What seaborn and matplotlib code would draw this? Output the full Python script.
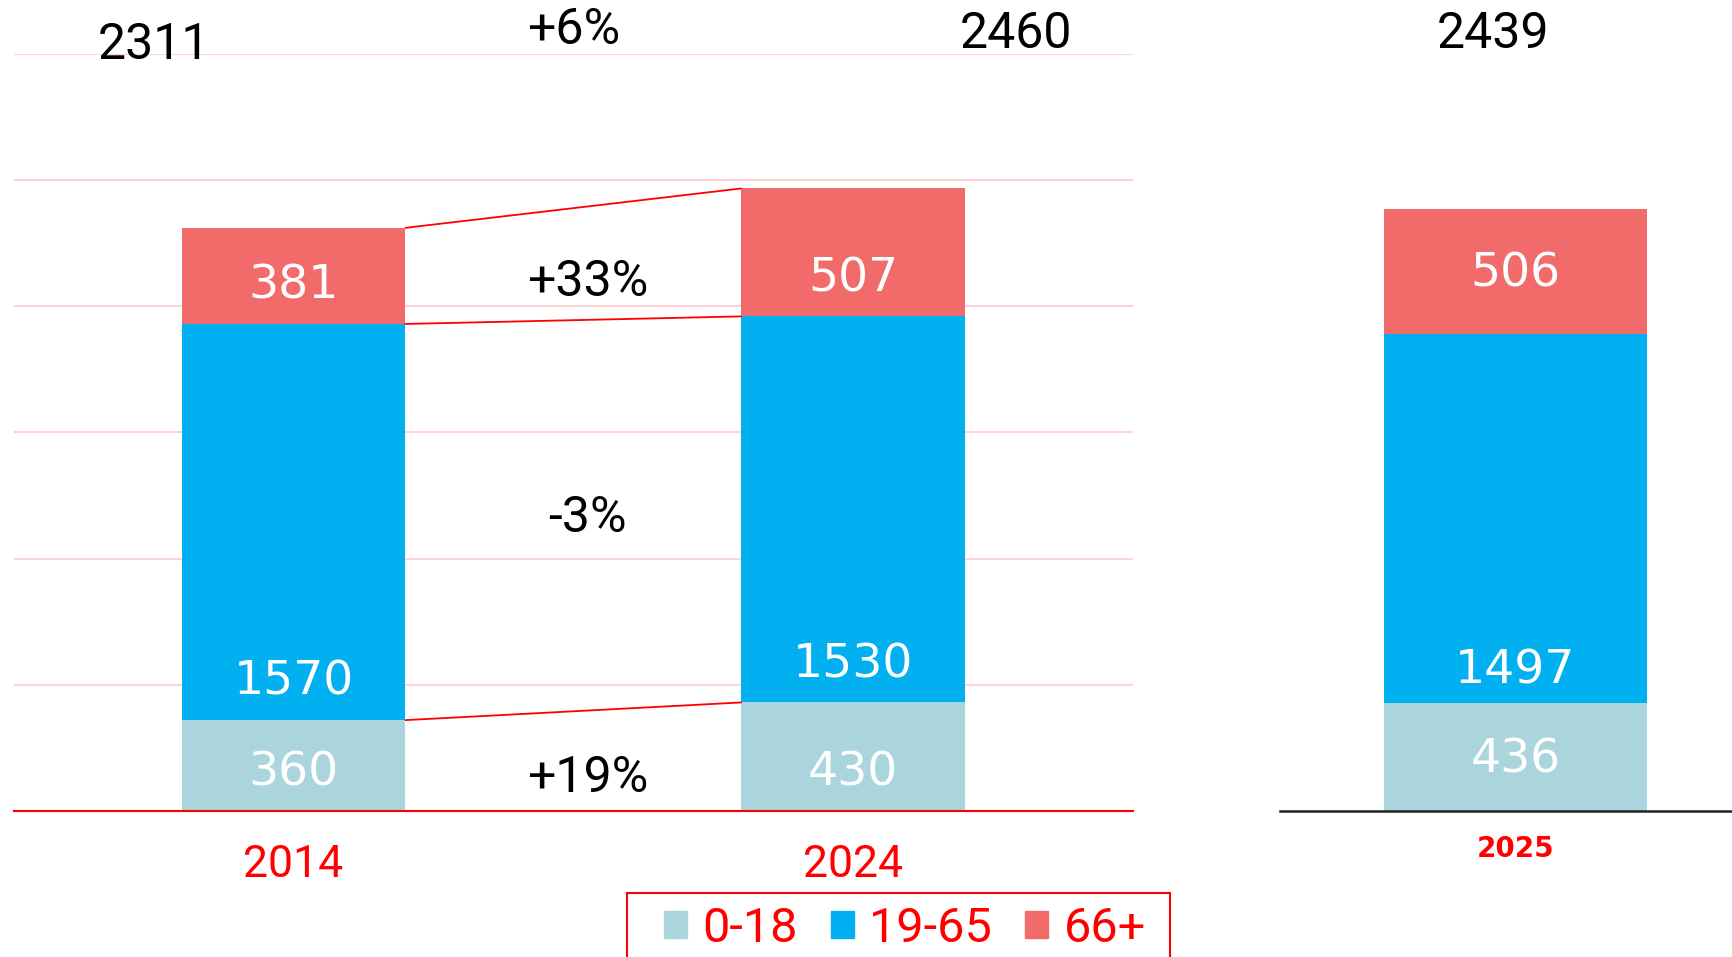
import pandas as pd
import seaborn as sns
import matplotlib.pyplot as plt
from matplotlib.patches import Rectangle

# values
years_left = ["2014", "2024"]
age_0_18 = [360, 430]
age_19_65 = [1570, 1530]
age_66_plus = [381, 507]
totals_left = ["2311", "2460"]

year_right = ["2025"]
r_0_18 = [436]
r_19_65 = [1497]
r_66_plus = [506]
total_right = "2439"

groups = ["0-18", "19-65", "66+"]
changes = ["+19%", "-3%", "+33%", "+6%"]
colors = ["#ABD5DC", "#00B0F0", "#F16B6B"]

sns.set_theme(style="white")
plt.rcParams["font.family"] = ["Roboto", "DejaVu Sans"]

fig = plt.figure(figsize=(17.32, 9.57), dpi=100)
ax = fig.add_axes([0.008, 0.1526, 0.646, 0.791])
ax2 = fig.add_axes([0.739, 0.1526, 0.261, 0.791])


def stacked(axis, cats, s1, s2, s3, width):
    df = pd.DataFrame({"year": cats, "a": s1, "b": s2, "c": s3})
    bottoms = [0] * len(cats)
    for col, color in zip(["a", "b", "c"], colors):
        sns.barplot(data=df, x="year", y=col, color=color, width=width, saturation=1,
                    bottom=bottoms, errorbar=None, linewidth=0, ax=axis)
        bottoms = [b + v for b, v in zip(bottoms, df[col])]
    return df


df_left = stacked(ax, years_left, age_0_18, age_19_65, age_66_plus, 0.4)
df_right = stacked(ax2, year_right, r_0_18, r_19_65, r_66_plus, 0.582)


def inner(axis, x, y, val):
    axis.annotate(str(val), (x, y), xytext=(0, -2), textcoords="offset points",
                  color="white", fontsize=34, family="DejaVu Sans",
                  ha="center", va="center")


# labels inside the bars (placed near the segment base like the original slide)
for i, row in df_left.iterrows():
    inner(ax, i, 161, row.a)
    inner(ax, i, row.a + 161, row.b)
    inner(ax, i, row.a + row.b + 161, row.c)
for i, row in df_right.iterrows():
    inner(ax2, i, row.a / 2, row.a)
    inner(ax2, i, row.a + 141, row.b)
    inner(ax2, i, row.a + row.b + row.c / 2, row.c)

# left panel frame
ax.set_xlim(-0.5, 1.5)
ax.set_ylim(0, 3000)
ax.set_yticks(range(500, 3001, 500))
ax.yaxis.grid(True, color="#FFD3D3", linewidth=1.5)
ax.set_axisbelow(True)
ax.tick_params(axis="y", left=False, labelleft=False)
ax.tick_params(axis="x", bottom=False, labelsize=32, labelcolor="red", pad=18)
ax.set_xlabel("")
ax.set_ylabel("")
for s in ["top", "left", "right"]:
    ax.spines[s].set_visible(False)
ax.spines["bottom"].set_color("red")
ax.spines["bottom"].set_linewidth(1.5)

# connector lines between the two bars
c14 = [age_0_18[0], age_0_18[0] + age_19_65[0], age_0_18[0] + age_19_65[0] + age_66_plus[0]]
c24 = [age_0_18[1], age_0_18[1] + age_19_65[1], age_0_18[1] + age_19_65[1] + age_66_plus[1]]
for y0, y1 in zip(c14, c24):
    ax.plot([0.2, 0.8], [y0, y1], color="red", linewidth=1.3)

# change labels and totals
big = dict(fontsize=36, ha="center", va="center", color="black", annotation_clip=False,
           xytext=(0, -2), textcoords="offset points")
ax.annotate(changes[0], (0.525, 143), **big)
ax.annotate(changes[1], (0.525, 1173), **big)
ax.annotate(changes[2], (0.525, 2108), **big)
ax.annotate(changes[3], (0.5, 3107), **big)
ax.annotate(totals_left[0], (-0.25, 3048), **big)
ax.annotate(totals_left[1], (1.291, 3091), **big)

# right panel frame
ax2.set_xlim(-0.521, 0.479)
ax2.set_ylim(0, 3066)
ax2.tick_params(axis="y", left=False, labelleft=False)
ax2.tick_params(axis="x", bottom=False, pad=11)
for t in ax2.get_xticklabels():
    t.set_fontfamily("DejaVu Sans")
    t.set_fontweight("bold")
    t.set_fontsize(20)
    t.set_color("red")
ax2.set_xlabel("")
ax2.set_ylabel("")
for s in ["top", "left", "right"]:
    ax2.spines[s].set_visible(False)
ax2.spines["bottom"].set_color("#222222")
ax2.spines["bottom"].set_linewidth(1.8)
ax2.annotate(total_right, (-0.05, 3159), **big)

# legend (frame drawn separately so the inner padding matches)
handles = [plt.Rectangle((0, 0), 1, 1, color=c) for c in colors]
leg = fig.legend(handles, groups, loc="center left", bbox_to_anchor=(664 / 1732, 1 - 929 / 957),
                 ncol=3, fontsize=35, frameon=False, borderaxespad=0, borderpad=0,
                 handlelength=0.47, handleheight=0.47, handletextpad=0.32,
                 columnspacing=0.68)
for t in leg.get_texts():
    t.set_color("red")
fig.patches.append(Rectangle((627 / 1732, -0.05), (1170 - 627) / 1732, 0.05 + 1 - 893 / 957,
                             transform=fig.transFigure, fill=False, edgecolor="red",
                             linewidth=1.5))

fig.savefig("out.png", dpi=100)
